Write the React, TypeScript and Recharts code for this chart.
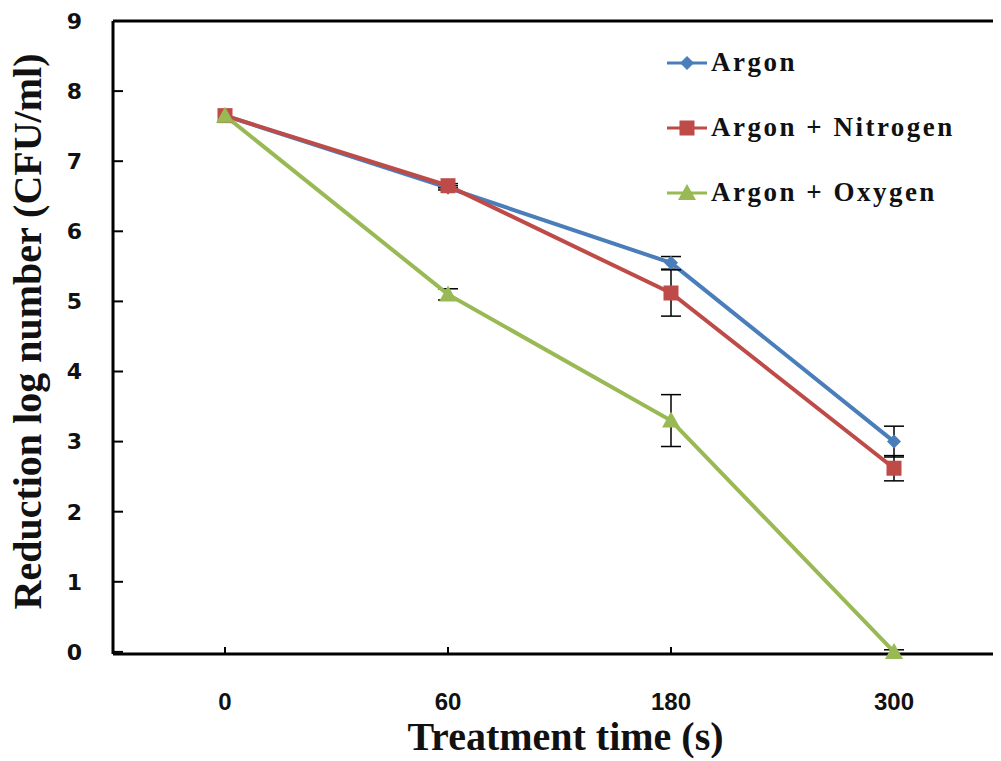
import React from 'react';
import { LineChart, Line, XAxis, YAxis, ErrorBar, ReferenceLine } from 'recharts';

const times = ['0', '60', '180', '300'];
const argon = [7.65, 6.62, 5.55, 3.0];
const argonErr = [0, 0.03, 0.09, 0.22];
const nitrogen = [7.65, 6.65, 5.12, 2.62];
const nitrogenErr = [0, 0.03, 0.33, 0.18];
const oxygen = [7.65, 5.1, 3.3, 0];
const oxygenErr = [0, 0.08, 0.37, 0.03];
const yTicks = [0, 1, 2, 3, 4, 5, 6, 7, 8, 9];

const BLUE = '#4A7EBB';
const RED = '#BE4B48';
const GREEN = '#98B954';

const data = times.map((t, i) => ({
  time: t,
  argon: argon[i],
  argonErr: argonErr[i],
  nitrogen: nitrogen[i],
  nitrogenErr: nitrogenErr[i],
  oxygen: oxygen[i],
  oxygenErr: oxygenErr[i],
}));

const legendItems = [
  { name: 'Argon', color: BLUE, shape: 'diamond' },
  { name: 'Argon + Nitrogen', color: RED, shape: 'square' },
  { name: 'Argon + Oxygen', color: GREEN, shape: 'triangle' },
];

const marker = (shape, cx, cy, color, key?) => {
  if (shape === 'diamond')
    return <polygon key={key} points={`${cx},${cy - 7} ${cx + 7},${cy} ${cx},${cy + 7} ${cx - 7},${cy}`} fill={color} />;
  if (shape === 'square')
    return <rect key={key} x={cx - 7.5} y={cy - 7.5} width={15} height={15} fill={color} />;
  return <polygon key={key} points={`${cx},${cy - 9} ${cx + 9},${cy + 7} ${cx - 9},${cy + 7}`} fill={color} />;
};

const dotFor = (shape, color) => (p: any) => marker(shape, p.cx, p.cy, color, `${shape}-${p.index}`);

// legend is an overlay so it doesn't shrink the plot area
const ChartLegend = () => (
  <div style={{ position: 'absolute', top: 22, left: 655 }}>
    {legendItems.map((it) => (
      <div key={it.name} style={{ height: 65, display: 'flex', alignItems: 'center' }}>
        <svg width={48} height={20}>
          <line x1={4} y1={10} x2={44} y2={10} stroke={it.color} strokeWidth={3} />
          {marker(it.shape, 24, 10, it.color)}
        </svg>
        <span style={{ fontFamily: '"Liberation Serif", serif', fontWeight: 'bold', fontSize: 27, letterSpacing: 2.5, color: '#111', whiteSpace: 'nowrap' }}>
          {it.name}
        </span>
      </div>
    ))}
  </div>
);

const font = { fontWeight: 'bold', fill: '#111' };

export default function App() {
  return (
    <div style={{ position: 'relative', width: 1000, height: 750 }}>
      <LineChart width={1000} height={750} data={data} margin={{ top: 13, right: 2, left: 0, bottom: 0 }}>
        <XAxis
          dataKey="time"
          padding={{ left: 112, right: 112 }}
          axisLine={{ stroke: '#000', strokeWidth: 3 }}
          tickLine={{ stroke: '#000', strokeWidth: 2 }}
          tickSize={-7}
          tickMargin={46}
          height={104}
          tick={{ ...font, fontFamily: '"Liberation Sans Narrow", "Liberation Sans", sans-serif', fontSize: 24 }}
          label={{
            content: (p: any) => (
              <text x={p.viewBox.x + p.viewBox.width / 2 + 6} y={p.viewBox.y + 96} textAnchor="middle"
                style={{ fontFamily: '"Liberation Serif", serif', fontWeight: 'bold', fontSize: 40, fill: '#111' }}>
                Treatment time (s)
              </text>
            ),
          }}
        />
        <YAxis
          type="number"
          domain={[0, 9]}
          ticks={yTicks}
          interval={0}
          width={105}
          axisLine={{ stroke: '#000', strokeWidth: 3 }}
          tickLine={{ stroke: '#000', strokeWidth: 2 }}
          tickSize={-10}
          tickMargin={41}
          tick={{ ...font, fontFamily: '"DejaVu Sans", sans-serif', fontSize: 22 }}
          label={{
            content: (p: any) => {
              const cx = p.viewBox.x + 33;
              const cy = p.viewBox.y + p.viewBox.height / 2 - 6;
              return (
                <text x={cx} y={cy} textAnchor="middle" transform={`rotate(-90 ${cx} ${cy})`}
                  style={{ fontFamily: '"Liberation Serif", serif', fontWeight: 'bold', fontSize: 40, fill: '#111' }}>
                  Reduction log number (CFU/ml)
                </text>
              );
            },
          }}
        />
        <ReferenceLine y={9} stroke="#000" strokeWidth={3} />
        <Line dataKey="argon" stroke={BLUE} strokeWidth={4} isAnimationActive={false} dot={dotFor('diamond', BLUE)}>
          <ErrorBar dataKey="argonErr" width={10} stroke="#000" strokeWidth={1.5} direction="y" />
        </Line>
        <Line dataKey="nitrogen" stroke={RED} strokeWidth={4} isAnimationActive={false} dot={dotFor('square', RED)}>
          <ErrorBar dataKey="nitrogenErr" width={10} stroke="#000" strokeWidth={1.5} direction="y" />
        </Line>
        <Line dataKey="oxygen" stroke={GREEN} strokeWidth={4} isAnimationActive={false} dot={dotFor('triangle', GREEN)}>
          <ErrorBar dataKey="oxygenErr" width={10} stroke="#000" strokeWidth={1.5} direction="y" />
        </Line>
      </LineChart>
      <ChartLegend />
    </div>
  );
}
